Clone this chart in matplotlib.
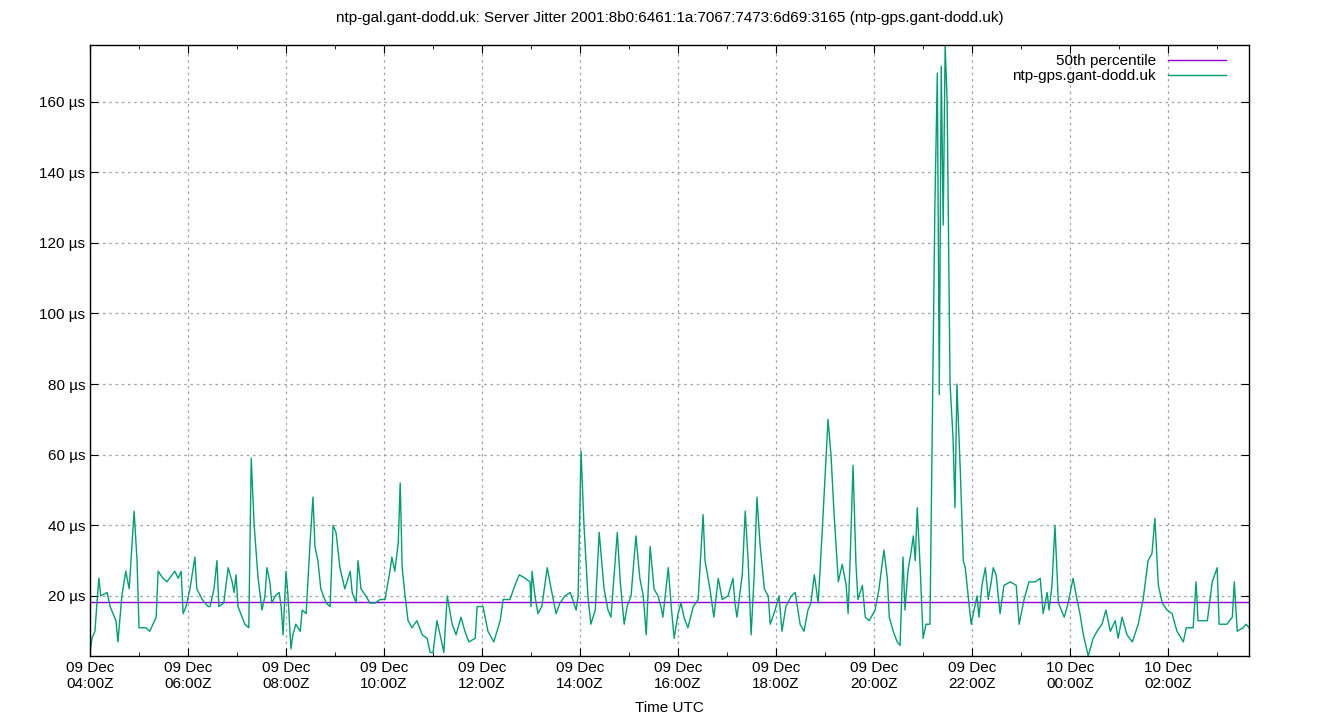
import matplotlib
matplotlib.use("Agg")
import matplotlib.pyplot as plt
import matplotlib.dates as mdates
import numpy as np
import datetime as dt

plt.rcParams['font.family'] = ['Liberation Sans', 'DejaVu Sans']

title = "ntp-gal.gant-dodd.uk: Server Jitter 2001:8b0:6461:1a:7067:7473:6d69:3165 (ntp-gps.gant-dodd.uk)"
series_name = "ntp-gps.gant-dodd.uk"
median_label = "50th percentile"
median_value = 18.3

# hours after 2023-12-09 04:00Z
hours = [0, .04, .10, .18, .22, .35, .41, .53, .57, .65, .73, .80, .86, .90, .96, 1.00, 1.14, 1.22, 1.35, 1.39,
         1.49, 1.57, 1.73, 1.80, 1.86, 1.90, 1.96, 2.04, 2.14, 2.18, 2.29, 2.41, 2.45, 2.53, 2.59, 2.63, 2.73, 2.82, 2.90, 2.94,
         2.98, 3.02, 3.16, 3.24, 3.29, 3.35, 3.43, 3.51, 3.57, 3.61, 3.67, 3.71, 3.78, 3.86, 3.90, 3.94, 4.00, 4.04, 4.10, 4.14,
         4.20, 4.29, 4.33, 4.41, 4.49, 4.55, 4.59, 4.65, 4.71, 4.82, 4.90, 4.96, 5.02, 5.10, 5.20, 5.31, 5.35, 5.43, 5.47, 5.53,
         5.63, 5.71, 5.82, 5.92, 6.02, 6.12, 6.16, 6.22, 6.29, 6.33, 6.37, 6.43, 6.49, 6.57, 6.67, 6.78, 6.88, 6.94, 7.00, 7.08,
         7.16, 7.22, 7.29, 7.39, 7.47, 7.57, 7.65, 7.73, 7.86, 7.90, 8.02, 8.12, 8.24, 8.37, 8.43, 8.57, 8.67, 8.76, 8.88, 8.98,
         9.00, 9.02, 9.08, 9.14, 9.22, 9.33, 9.41, 9.51, 9.59, 9.69, 9.80, 9.92, 9.96, 10.02, 10.08, 10.16, 10.22, 10.31, 10.39, 10.49,
         10.57, 10.63, 10.76, 10.82, 10.90, 10.96, 11.04, 11.14, 11.22, 11.29, 11.35, 11.43, 11.51, 11.59, 11.65, 11.69, 11.80, 11.86, 11.92, 12.00,
         12.06, 12.12, 12.20, 12.31, 12.41, 12.51, 12.55, 12.65, 12.73, 12.82, 12.90, 13.02, 13.12, 13.16, 13.20, 13.31, 13.37, 13.43, 13.49, 13.55,
         13.61, 13.67, 13.76, 13.84, 13.88, 13.98, 14.06, 14.12, 14.20, 14.31, 14.39, 14.49, 14.57, 14.65, 14.71, 14.78, 14.86, 14.94, 15.06, 15.12,
         15.18, 15.27, 15.35, 15.43, 15.47, 15.51, 15.57, 15.63, 15.67, 15.76, 15.82, 15.90, 16.02, 16.10, 16.20, 16.27, 16.31, 16.39, 16.47, 16.53,
         16.59, 16.63, 16.69, 16.76, 16.80, 16.84, 16.88, 16.94, 17.00, 17.06, 17.14, 17.18, 17.24, 17.29, 17.33, 17.37, 17.41, 17.45, 17.49, 17.55,
         17.61, 17.65, 17.69, 17.76, 17.82, 17.86, 17.92, 17.98, 18.04, 18.10, 18.14, 18.20, 18.27, 18.33, 18.39, 18.43, 18.49, 18.57, 18.65, 18.78,
         18.90, 18.96, 19.06, 19.16, 19.29, 19.39, 19.45, 19.53, 19.57, 19.63, 19.69, 19.76, 19.82, 19.88, 19.96, 20.06, 20.14, 20.20, 20.27, 20.37,
         20.47, 20.55, 20.65, 20.73, 20.82, 20.92, 20.98, 21.06, 21.16, 21.27, 21.39, 21.49, 21.59, 21.67, 21.73, 21.80, 21.88, 21.98, 22.08, 22.18,
         22.31, 22.37, 22.51, 22.57, 22.61, 22.76, 22.80, 22.90, 23.00, 23.04, 23.20, 23.31, 23.35, 23.41, 23.53, 23.59, 23.65]

jitter = [4, 8, 10, 25, 20, 21, 17, 13, 7, 20, 27, 22, 35, 44, 30, 11, 11, 10, 14, 27,
          25, 24, 27, 25, 27, 15, 17, 22, 31, 22, 19, 17, 17, 22, 30, 17, 18, 28, 24, 21,
          26, 17, 12, 11, 59, 40, 25, 16, 20, 28, 24, 18, 20, 21, 17, 9, 27, 20, 5, 9,
          12, 10, 16, 15, 35, 48, 34, 30, 22, 18, 17, 40, 38, 28, 22, 27, 21, 18, 30, 22,
          20, 18, 18, 19, 19, 27, 31, 27, 35, 52, 28, 20, 13, 11, 13, 9, 8, 4, 4, 13,
          8, 4, 20, 12, 9, 14, 10, 7, 8, 17, 17, 10, 7, 13, 19, 19, 23, 26, 25, 24,
          17, 27, 20, 15, 17, 28, 22, 15, 18, 20, 21, 16, 20, 61, 40, 20, 12, 16, 38, 22,
          16, 14, 38, 24, 12, 17, 20, 37, 25, 20, 9, 34, 22, 20, 17, 14, 28, 17, 8, 15,
          18, 14, 11, 17, 19, 43, 30, 22, 14, 25, 19, 20, 25, 18, 14, 26, 44, 30, 9, 25,
          48, 35, 22, 20, 12, 16, 20, 10, 17, 20, 21, 12, 10, 16, 18, 26, 18, 38, 70, 60,
          44, 24, 29, 23, 15, 30, 57, 29, 19, 23, 14, 13, 16, 22, 33, 25, 14, 10, 7, 6,
          31, 16, 27, 33, 37, 30, 45, 28, 8, 12, 12, 60, 130, 168, 77, 170, 125, 176, 160, 80,
          65, 45, 80, 55, 30, 28, 20, 12, 16, 20, 14, 23, 28, 19, 24, 28, 26, 15, 23, 24,
          23, 12, 19, 24, 24, 25, 15, 21, 16, 23, 40, 18, 16, 14, 18, 25, 19, 15, 9, 3,
          8, 10, 12, 16, 10, 13, 8, 14, 9, 7, 12, 19, 30, 32, 42, 23, 18, 16, 15, 10,
          7, 11, 11, 24, 13, 13, 13, 24, 28, 12, 12, 14, 24, 10, 11, 12, 11]

start = dt.datetime(2023, 12, 9, 4, 0)
times = [start + dt.timedelta(hours=h) for h in hours]
n = min(len(times), len(jitter))
times, jitter = times[:n], jitter[:n]

fig = plt.figure(figsize=(13.4, 7.2), dpi=100)
ax = fig.add_axes([90/1340, 1-656/720, (1249-90)/1340, (656-45)/720])

ax.plot(times, [median_value]*n, color='#9400d3', lw=1, label=median_label)
ax.plot(times, jitter, color='#009e73', lw=1, label=series_name)

ax.set_xlim(start, start + dt.timedelta(hours=23.65))
ax.set_ylim(3, 176)
ax.set_yticks(range(20, 161, 20))
ax.set_yticklabels([f"{v} µs" for v in range(20, 161, 20)])
ax.xaxis.set_major_locator(mdates.HourLocator(byhour=range(0, 24, 2)))
ax.xaxis.set_minor_locator(mdates.HourLocator())
ax.xaxis.set_major_formatter(mdates.DateFormatter("%d %b\n%H:%MZ"))
ax.tick_params(which='both', direction='in', top=True, right=True, labelsize=11, colors='black')
ax.tick_params(which='major', length=6)
ax.tick_params(which='minor', length=3)
ax.grid(True, which='major', color='#a0a0a0', linestyle=(0, (2, 3)), lw=0.9)
for s in ax.spines.values():
    s.set_linewidth(1)
ax.set_xlabel("Time UTC", fontsize=11, labelpad=7)
fig.suptitle(title, y=0.985, fontsize=11)
leg = ax.legend(loc='upper right', frameon=False, markerfirst=False, fontsize=11,
                handlelength=3.8, handletextpad=0.8, borderaxespad=0.2, labelspacing=0.05,
                bbox_to_anchor=(0.988, 1.0))
for t in leg.get_texts():
    t.set_ha('right')
fig.savefig("out.png", dpi=100)
